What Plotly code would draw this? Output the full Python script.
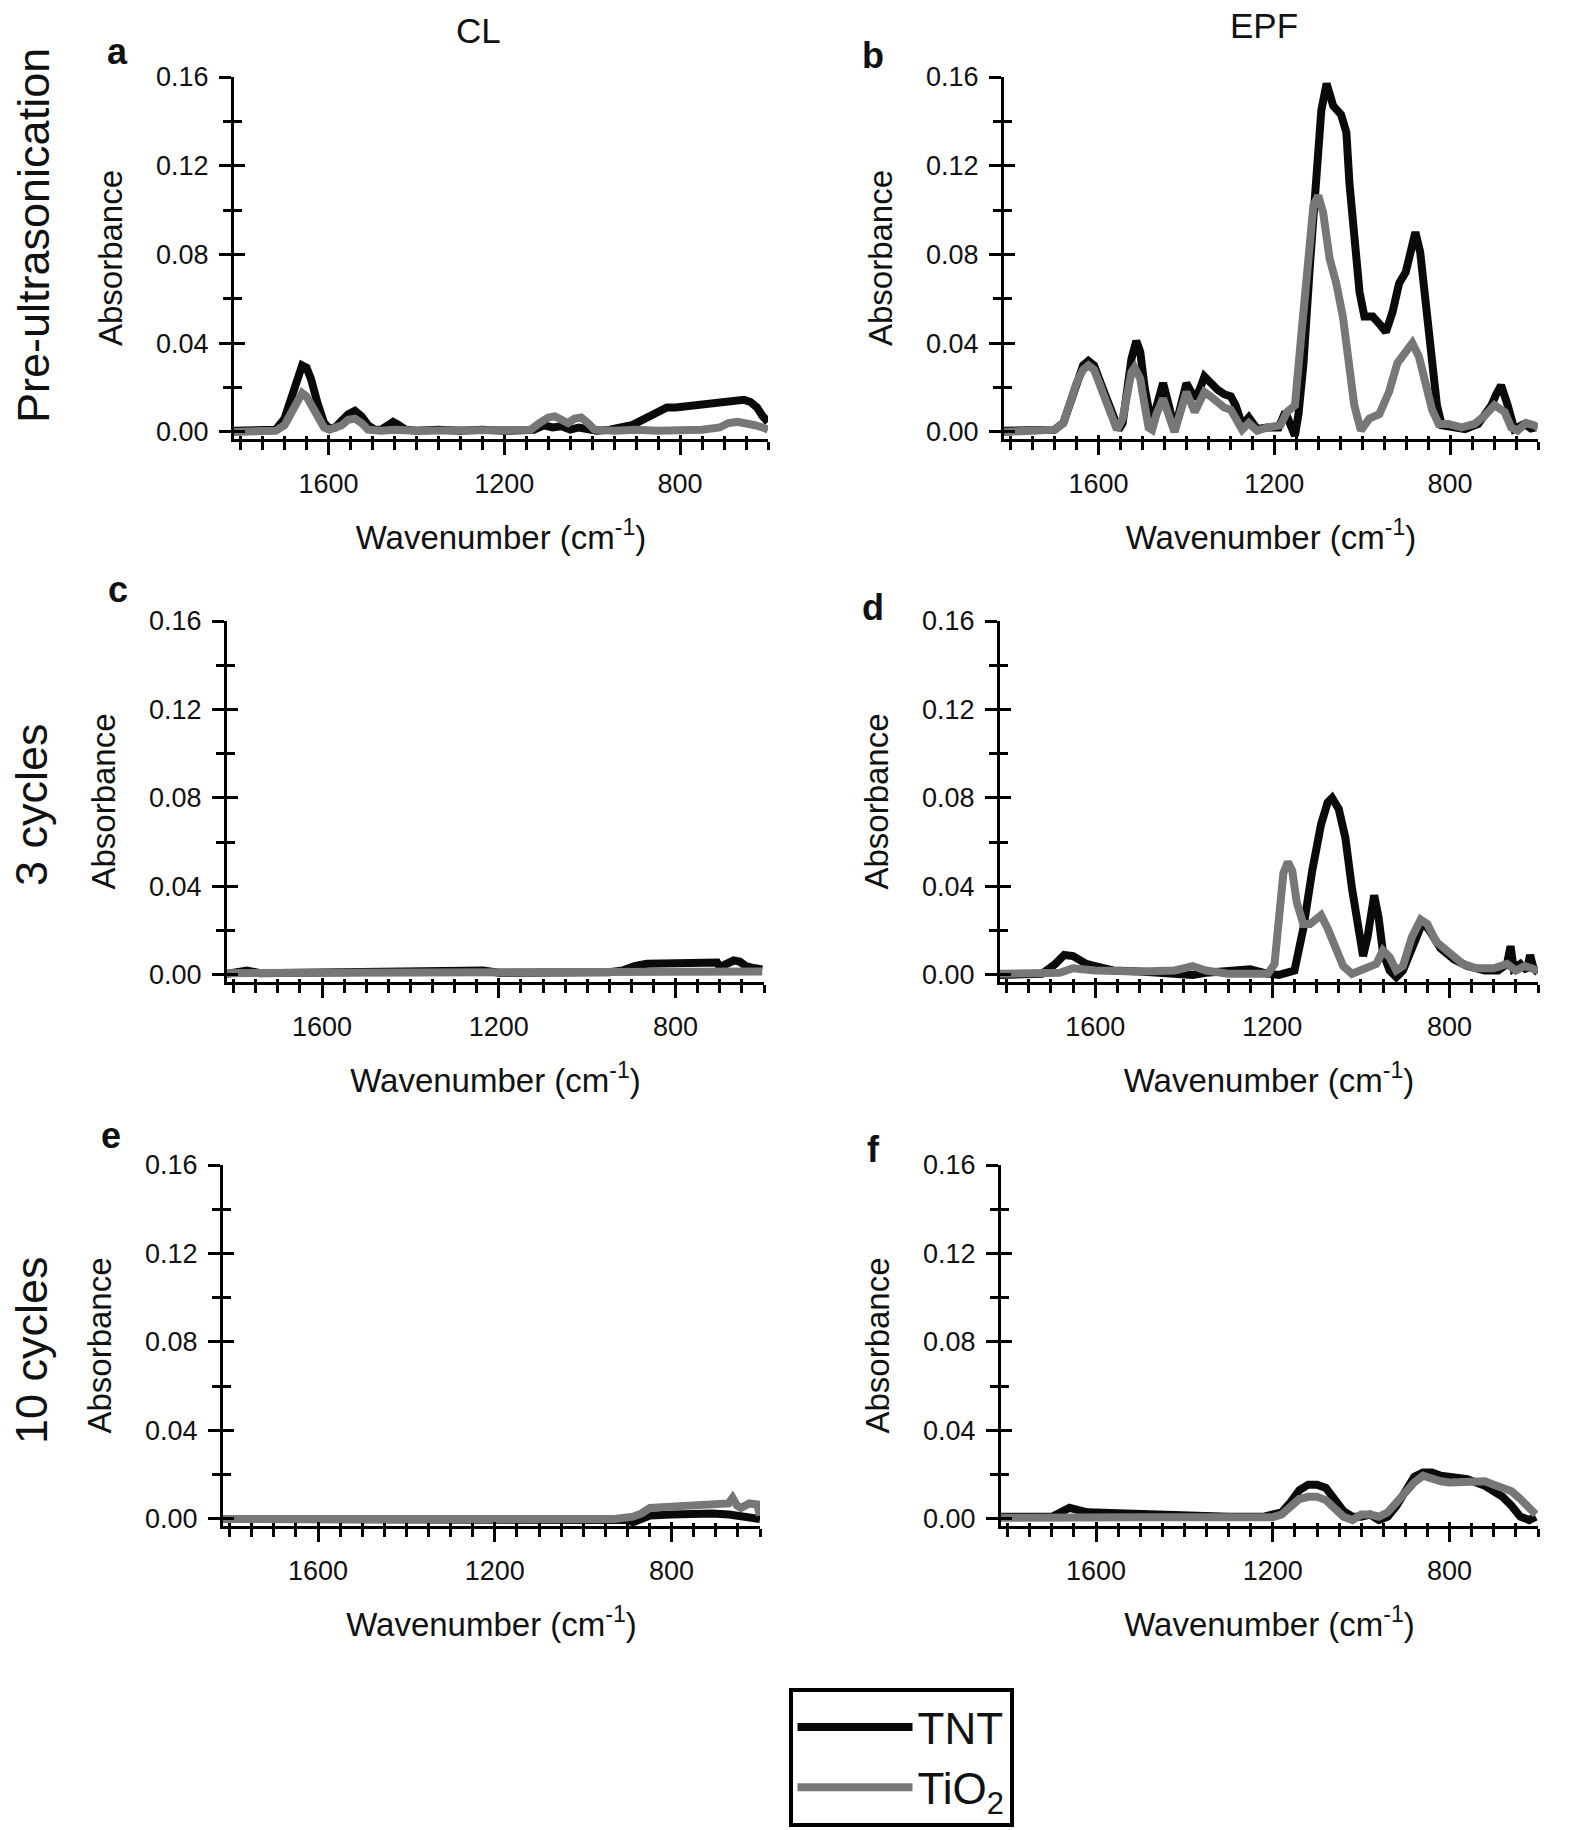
import plotly.graph_objects as go

# ---------------- data (wavenumber cm-1, absorbance) ----------------
# Panel a: CL, pre-ultrasonication
a_tnt_x = [1815, 1760, 1720, 1700, 1685, 1670, 1660, 1650, 1640, 1625, 1610, 1598, 1585, 1570, 1555, 1540,
           1525, 1510, 1495, 1480, 1465, 1453, 1440, 1425, 1400, 1350, 1300, 1250, 1200, 1150, 1133, 1110,
           1090, 1070, 1050, 1030, 1010, 990, 960, 930, 910, 890, 870, 850, 830, 810, 790, 770, 750, 730,
           710, 690, 670, 655, 640, 625, 612, 600]
a_tnt_y = [0.0005, 0.0005, 0.001, 0.006, 0.016, 0.026, 0.030, 0.029, 0.024, 0.013, 0.004, 0.0015, 0.002,
           0.005, 0.008, 0.0095, 0.007, 0.003, 0.001, 0.001, 0.003, 0.0045, 0.003, 0.001, 0.0005, 0.001,
           0.0005, 0.001, 0.0005, 0.0005, 0.001, 0.003, 0.002, 0.0025, 0.001, 0.002, 0.0015, 0.0005, 0.001,
           0.002, 0.003, 0.005, 0.007, 0.010, 0.011, 0.011, 0.0115, 0.012, 0.0125, 0.013, 0.014, 0.0145,
           0.015, 0.0145, 0.0135, 0.011, 0.007, 0.0045]
a_tio2_x = [1815, 1760, 1720, 1700, 1685, 1670, 1660, 1650, 1640, 1625, 1610, 1598, 1570, 1555, 1540, 1525,
            1510, 1480, 1450, 1400, 1300, 1200, 1140, 1120, 1100, 1085, 1070, 1055, 1040, 1025, 1010, 995,
            950, 900, 850, 800, 750, 710, 690, 670, 650, 630, 612, 600]
a_tio2_y = [0.0, 0.0005, 0.0005, 0.003, 0.009, 0.015, 0.0175, 0.016, 0.012, 0.006, 0.002, 0.001, 0.003,
            0.0055, 0.006, 0.004, 0.001, 0.0005, 0.001, 0.0005, 0.0005, 0.0005, 0.001, 0.004, 0.0065, 0.007,
            0.005, 0.004, 0.006, 0.0065, 0.004, 0.001, 0.0005, 0.001, 0.0005, 0.0005, 0.001, 0.002, 0.004,
            0.0045, 0.004, 0.003, 0.002, 0.001]

# Panel b: EPF, pre-ultrasonication
b_tnt_x = [1815, 1760, 1700, 1680, 1665, 1650, 1635, 1623, 1610, 1595, 1580, 1565, 1554, 1545, 1535, 1525,
           1514, 1505, 1495, 1485, 1478, 1470, 1453, 1440, 1427, 1415, 1400, 1381, 1370, 1359, 1345, 1329,
           1314, 1299, 1288, 1273, 1258, 1248, 1239, 1216, 1190, 1175, 1165, 1153, 1145, 1134, 1119, 1104,
           1093, 1081, 1066, 1048, 1036, 1029, 1018, 1006, 995, 976, 958, 946, 931, 916, 901, 886, 879, 868,
           856, 841, 830, 819, 796, 766, 736, 706, 695, 684, 669, 654, 631, 616, 605]
b_tnt_y = [0.0005, 0.0005, 0.001, 0.004, 0.012, 0.022, 0.030, 0.032, 0.030, 0.022, 0.014, 0.006, 0.001,
           0.004, 0.018, 0.033, 0.041, 0.036, 0.020, 0.006, 0.002, 0.010, 0.022, 0.012, 0.001, 0.010, 0.022,
           0.015, 0.019, 0.025, 0.022, 0.019, 0.017, 0.016, 0.012, 0.003, 0.0065, 0.004, 0.0013, 0.002, 0.002,
           0.009, 0.004, -0.0017, 0.008, 0.030, 0.075, 0.120, 0.145, 0.157, 0.147, 0.143, 0.135, 0.112,
           0.090, 0.063, 0.052, 0.052, 0.048, 0.045, 0.054, 0.067, 0.072, 0.084, 0.090, 0.081, 0.060, 0.030,
           0.012, 0.003, 0.002, 0.0013, 0.0036, 0.012, 0.017, 0.021, 0.012, 0.0013, 0.0036, 0.0015, 0.002]
b_tio2_x = [1815, 1760, 1700, 1680, 1665, 1650, 1635, 1623, 1610, 1595, 1580, 1565, 1558, 1545, 1535, 1525,
            1518, 1505, 1495, 1486, 1478, 1468, 1453, 1440, 1427, 1415, 1400, 1381, 1359, 1345, 1329, 1314,
            1299, 1273, 1258, 1239, 1216, 1186, 1171, 1153, 1138, 1123, 1111, 1100, 1089, 1074, 1059, 1044,
            1029, 1018, 1003, 984, 961, 939, 920, 901, 886, 871, 856, 841, 826, 804, 774, 744, 721, 699, 676,
            661, 646, 627, 609, 600]
b_tio2_y = [0.0, 0.0005, 0.001, 0.004, 0.013, 0.022, 0.028, 0.030, 0.028, 0.020, 0.012, 0.004, 0.001,
            0.006, 0.018, 0.027, 0.029, 0.024, 0.012, 0.002, 0.001, 0.008, 0.015, 0.008, 0.0, 0.008, 0.018,
            0.009, 0.018, 0.016, 0.013, 0.011, 0.010, 0.001, 0.004, 0.0005, 0.002, 0.003, 0.009, 0.012, 0.045,
            0.082, 0.102, 0.1065, 0.099, 0.078, 0.067, 0.052, 0.030, 0.012, 0.0006, 0.006, 0.008, 0.018, 0.031,
            0.036, 0.040, 0.034, 0.022, 0.010, 0.0036, 0.0036, 0.002, 0.0036, 0.0074, 0.012, 0.009, 0.002,
            0.0006, 0.004, 0.003, 0.002]

# Panel c: CL, 3 cycles
c_tnt_x = [1815, 1770, 1740, 1650, 1500, 1400, 1300, 1235, 1200, 1100, 1000, 950, 920, 893, 865, 830, 800,
           770, 744, 720, 706, 700, 685, 669, 655, 641, 620, 604]
c_tnt_y = [0.0005, 0.002, 0.0008, 0.001, 0.001, 0.001, 0.001, 0.002, 0.001, 0.0008, 0.0008, 0.0012, 0.002,
           0.004, 0.005, 0.005, 0.005, 0.0052, 0.0056, 0.0056, 0.0056, 0.0035, 0.005, 0.0065, 0.006, 0.004,
           0.003, 0.0025]
c_tio2_x = [1815, 1700, 1600, 1500, 1400, 1300, 1200, 1100, 1000, 900, 800, 700, 650, 620, 604]
c_tio2_y = [0.0008, 0.0008, 0.0008, 0.0008, 0.0008, 0.0008, 0.0008, 0.0008, 0.0008, 0.0008, 0.0008, 0.001,
            0.0012, 0.0015, 0.0015]

# Panel d: EPF, 3 cycles
d_tnt_x = [1815, 1720, 1690, 1670, 1650, 1620, 1600, 1560, 1500, 1420, 1380, 1350, 1300, 1250, 1210, 1185,
           1150, 1130, 1110, 1090, 1075, 1065, 1050, 1035, 1020, 1005, 995, 985, 975, 970, 960, 950, 935, 920,
           905, 885, 870, 860, 845, 820, 790, 760, 720, 690, 670, 662, 655, 640, 625, 618, 610, 600]
d_tnt_y = [0.0, 0.0005, 0.005, 0.009, 0.0085, 0.005, 0.004, 0.002, 0.0015, 0.0005, 0.0, 0.001, 0.002, 0.0025,
           0.0005, 0.0, 0.002, 0.021, 0.047, 0.068, 0.078, 0.080, 0.075, 0.062, 0.039, 0.017, 0.0085, 0.017,
           0.034, 0.036, 0.026, 0.010, 0.002, -0.001, 0.002, 0.012, 0.021, 0.024, 0.020, 0.012, 0.007, 0.004,
           0.002, 0.002, 0.005, 0.013, 0.003, 0.005, 0.002, 0.009, 0.003, 0.001]
d_tio2_x = [1815, 1700, 1680, 1650, 1600, 1500, 1420, 1380, 1350, 1300, 1250, 1210, 1195, 1185, 1175, 1165,
            1155, 1145, 1130, 1115, 1100, 1090, 1075, 1060, 1040, 1020, 1000, 985, 965, 950, 935, 920, 905,
            885, 865, 850, 830, 800, 770, 740, 700, 670, 650, 630, 610, 600]
d_tio2_y = [0.0005, 0.0005, 0.001, 0.003, 0.002, 0.0015, 0.002, 0.004, 0.002, 0.0005, 0.0005, 0.0005, 0.005,
            0.026, 0.046, 0.051, 0.047, 0.033, 0.023, 0.023, 0.026, 0.027, 0.021, 0.013, 0.004, 0.0005, 0.002,
            0.004, 0.005, 0.011, 0.008, 0.002, 0.004, 0.017, 0.025, 0.023, 0.015, 0.010, 0.005, 0.003, 0.003,
            0.005, 0.002, 0.004, 0.003, 0.002]

# Panel e: CL, 10 cycles
e_tnt_x = [1815, 1700, 1600, 1500, 1400, 1300, 1200, 1100, 1000, 950, 901, 887, 849, 800, 755, 708, 670, 643,
           620, 606, 600]
e_tnt_y = [0.0, 0.0, 0.0, 0.0, 0.0, 0.0, 0.0, 0.0, 0.0, 0.0, -0.0005, -0.0015, 0.0015, 0.002, 0.0025, 0.0025,
           0.002, 0.001, 0.0005, 0.0, 0.0]
e_tio2_x = [1815, 1700, 1600, 1500, 1400, 1300, 1200, 1100, 1000, 929, 887, 868, 849, 793, 727, 671, 662, 652,
            643, 624, 606, 600]
e_tio2_y = [0.0, 0.0, 0.0, 0.0, 0.0, 0.0, 0.0, 0.0, 0.0, 0.0, 0.001, 0.0025, 0.005, 0.0055, 0.0065, 0.007,
            0.0095, 0.006, 0.005, 0.007, 0.0065, 0.0015]

# Panel f: EPF, 10 cycles
f_tnt_x = [1815, 1700, 1680, 1660, 1620, 1500, 1400, 1300, 1220, 1180, 1160, 1140, 1120, 1100, 1080, 1060,
           1040, 1020, 1000, 980, 960, 940, 920, 900, 880, 860, 840, 820, 800, 780, 760, 740, 720, 700, 680,
           660, 640, 620, 605]
f_tnt_y = [0.001, 0.001, 0.003, 0.005, 0.003, 0.002, 0.001, 0.001, 0.001, 0.003, 0.0075, 0.013, 0.0155,
           0.0155, 0.014, 0.009, 0.0035, 0.001, 0.001, 0.002, -0.0005, 0.001, 0.006, 0.0125, 0.019, 0.021,
           0.021, 0.0195, 0.019, 0.019, 0.018, 0.0165, 0.015, 0.0125, 0.010, 0.006, 0.001, -0.0005, 0.001]
f_tio2_x = [1815, 1700, 1680, 1600, 1500, 1400, 1300, 1200, 1180, 1160, 1140, 1120, 1100, 1080, 1060, 1040,
            1020, 1000, 980, 960, 940, 920, 900, 880, 860, 840, 820, 800, 780, 760, 740, 720, 700, 680, 660,
            640, 620, 605]
f_tio2_y = [0.0005, 0.0008, 0.001, 0.0008, 0.0008, 0.0008, 0.0008, 0.0008, 0.002, 0.006, 0.009, 0.010, 0.010,
            0.0085, 0.005, 0.001, -0.0005, 0.002, 0.002, 0.001, 0.003, 0.0075, 0.0125, 0.0165, 0.0195, 0.018,
            0.017, 0.0165, 0.0165, 0.0165, 0.017, 0.017, 0.0155, 0.014, 0.0125, 0.009, 0.0045, 0.002]

panel_letters = ["a", "b", "c", "d", "e", "f"]
column_titles = ["CL", "EPF"]
row_titles = ["Pre-ultrasonication", "3 cycles", "10 cycles"]
series_names = ["TNT", "TiO<sub>2</sub>"]
x_tick_values = [1600, 1200, 800]
y_tick_values = [0.00, 0.04, 0.08, 0.12, 0.16]

panels = [
    (a_tnt_x, a_tnt_y, a_tio2_x, a_tio2_y),
    (b_tnt_x, b_tnt_y, b_tio2_x, b_tio2_y),
    (c_tnt_x, c_tnt_y, c_tio2_x, c_tio2_y),
    (d_tnt_x, d_tnt_y, d_tio2_x, d_tio2_y),
    (e_tnt_x, e_tnt_y, e_tio2_x, e_tio2_y),
    (f_tnt_x, f_tnt_y, f_tio2_x, f_tio2_y),
]

# ---------------- layout geometry (target pixels in the screenshot) ----------------
W, H = 1595, 1830
PAGE_OFFSET = 8  # default body margin of the html page


def fx(px):
    return (px - PAGE_OFFSET) / W


def fy(py):
    return 1 - (py - PAGE_OFFSET) / H


# (left, right, top, bottom) of each plotting area
boxes = [
    (234, 768, 77, 439),
    (1004, 1538, 77, 439),
    (227, 764, 621, 982),
    (1000, 1538, 621, 982),
    (223, 760, 1165, 1526),
    (1001, 1538, 1165, 1526),
]
FONT = "Liberation Sans, Arial, Helvetica, sans-serif"
TXT = "#111111"
TNT_COLOR = "#0a0a0a"
TIO2_COLOR = "#777777"
X_RANGE = [1815, 600]
Y_RANGE = [-0.0032, 0.16]

fig = go.Figure()
layout = dict(
    width=W, height=H,
    margin=dict(l=0, r=0, t=0, b=0, autoexpand=False),
    paper_bgcolor="white", plot_bgcolor="white",
    font=dict(family=FONT, color=TXT),
    showlegend=True,
    legend=dict(
        x=fx(901), y=fy(1688), xanchor="center", yanchor="top",
        bordercolor="black", borderwidth=4, bgcolor="white",
        font=dict(size=44, family=FONT, color=TXT),
        itemwidth=115, tracegroupgap=0,
    ),
)

for i, (tx, ty, gx, gy) in enumerate(panels):
    n = i + 1
    m = i + 7  # overlay axes for the inner half of the crossing ticks
    l, r, t, b = boxes[i]
    xd = [fx(l), fx(r)]
    yd = [fy(b), fy(t)]
    xs = "" if n == 1 else str(n)
    fig.add_trace(go.Scatter(x=tx, y=ty, mode="lines", name=series_names[0], legendgroup="tnt",
                             showlegend=(i == 0), line=dict(color=TNT_COLOR, width=8),
                             xaxis="x" + xs, yaxis="y" + xs))
    fig.add_trace(go.Scatter(x=gx, y=gy, mode="lines", name=series_names[1], legendgroup="tio2",
                             showlegend=(i == 0), line=dict(color=TIO2_COLOR, width=8),
                             xaxis="x" + xs, yaxis="y" + xs))
    fig.add_trace(go.Scatter(x=[], y=[], mode="lines", showlegend=False, hoverinfo="skip",
                             xaxis="x" + str(m), yaxis="y" + str(m)))

    layout["xaxis" + xs] = dict(
        domain=xd, anchor="y" + xs, range=X_RANGE, autorange=False,
        showgrid=False, zeroline=False, showline=True, linecolor="black", linewidth=3,
        ticks="outside", tickvals=x_tick_values, ticklen=13, tickwidth=3, tickcolor="black",
        minor=dict(dtick=50, tick0=0, ticks="outside", ticklen=8, tickwidth=3, tickcolor="black",
                   showgrid=False),
        tickfont=dict(size=27, family=FONT, color=TXT), ticklabelstandoff=6,
        title=dict(text="Wavenumber (cm<sup>-1</sup>)", font=dict(size=33, family=FONT, color=TXT),
                   standoff=28),
    )
    layout["yaxis" + xs] = dict(
        domain=yd, anchor="x" + xs, range=Y_RANGE, autorange=False,
        showgrid=False, zeroline=False, showline=True, linecolor="black", linewidth=3,
        ticks="outside", tickvals=y_tick_values, tickformat=".2f", ticklen=12, tickwidth=3,
        tickcolor="black",
        minor=dict(dtick=0.02, tick0=0, ticks="outside", ticklen=8, tickwidth=3, tickcolor="black",
                   showgrid=False),
        tickfont=dict(size=27, family=FONT, color=TXT), ticklabelstandoff=5,
        title=dict(text="Absorbance", font=dict(size=33, family=FONT, color=TXT), standoff=24),
    )
    layout["xaxis" + str(m)] = dict(
        overlaying="x" + xs, anchor="y" + xs, range=X_RANGE, autorange=False, side="bottom",
        showgrid=False, zeroline=False, showline=False, showticklabels=False,
        ticks="inside", tickvals=x_tick_values, ticklen=4, tickwidth=3, tickcolor="black",
        minor=dict(dtick=50, tick0=0, ticks="inside", ticklen=3, tickwidth=3, tickcolor="black"),
    )
    layout["yaxis" + str(m)] = dict(
        overlaying="y" + xs, anchor="x" + xs, range=Y_RANGE, autorange=False, side="left",
        showgrid=False, zeroline=False, showline=False, showticklabels=False,
        ticks="inside", tickvals=y_tick_values, ticklen=11, tickwidth=3, tickcolor="black",
        minor=dict(dtick=0.02, tick0=0, ticks="inside", ticklen=8, tickwidth=3, tickcolor="black"),
    )

annotations = []
letter_pos = [(117, 52), (873, 55), (118, 589), (873, 607), (111, 1135), (873, 1149)]
for letter, (px, py) in zip(panel_letters, letter_pos):
    annotations.append(dict(text="<b>" + letter + "</b>", x=fx(px), y=fy(py), xref="paper",
                            yref="paper", showarrow=False, xanchor="center", yanchor="middle",
                            font=dict(size=36, family=FONT, color=TXT)))
for title, (px, py) in zip(column_titles, [(478, 31), (1264, 26)]):
    annotations.append(dict(text=title, x=fx(px), y=fy(py), xref="paper", yref="paper",
                            showarrow=False, xanchor="center", yanchor="middle",
                            font=dict(size=35, family=FONT, color=TXT)))
for title, (px, py) in zip(row_titles, [(33, 236), (31, 805), (31, 1350)]):
    annotations.append(dict(text=title, x=fx(px), y=fy(py), xref="paper", yref="paper",
                            showarrow=False, xanchor="center", yanchor="middle", textangle=-90,
                            font=dict(size=45, family=FONT, color=TXT)))
layout["annotations"] = annotations

fig.update_layout(**layout)
fig.write_html("out.html")
